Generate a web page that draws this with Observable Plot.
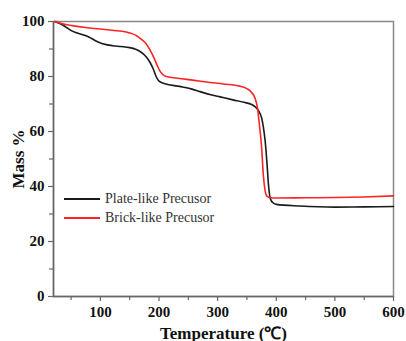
<!DOCTYPE html>
<html>
<head>
<meta charset="utf-8">
<script src="https://cdn.jsdelivr.net/npm/d3@7"></script>
<script src="https://cdn.jsdelivr.net/npm/@observablehq/plot@0.6"></script>
<style>
  html, body { margin: 0; padding: 0; background: #fff; }
  #wrap { position: relative; width: 406px; height: 341px; }
  #wrap svg text { font-family: "Liberation Serif", "Times New Roman", serif; }
  #legend { position: absolute; left: 64px; top: 189px; font-family: "Liberation Serif", "Times New Roman", serif; font-size: 14px; color: #333; line-height: 19px; }
  #legend div { display: flex; align-items: center; }
  #legend span.sw { display: inline-block; width: 36px; height: 0; border-top: 2px solid; margin-right: 5px; }
</style>
</head>
<body>
<div id="wrap"></div>
<script>
const seriesNames = ["Plate-like Precusor", "Brick-like Precusor"];
const seriesColors = ["#1a1a1a", "#ff2424"];

const plateT = [22, 35, 52, 70, 81, 90, 98, 110, 121, 135, 150, 160, 167, 178, 185, 190, 195, 200, 210, 235, 255, 270, 290, 304, 326, 345, 358, 365, 370, 375, 378, 381, 384, 387, 390, 395, 400, 440, 500, 550, 600];
const plateM = [100, 98.8, 96.5, 95.2, 94.3, 93.2, 92.4, 91.6, 91.2, 90.9, 90.5, 89.9, 89.2, 87.2, 85, 82.8, 80, 78.3, 77.4, 76.4, 75.5, 74.5, 73.3, 72.6, 71.5, 70.6, 69.8, 68.8, 67.5, 65, 61.6, 56.7, 49, 40, 35.5, 34, 33.5, 32.9, 32.5, 32.6, 32.7];

const brickT = [22, 35, 52, 75, 98, 120, 144, 155, 161, 170, 178, 185, 192, 197, 201, 206, 212, 235, 260, 281, 310, 338, 350, 358, 364, 368, 371, 375, 378, 381, 384, 390, 400, 450, 500, 550, 600];
const brickM = [100, 99.2, 98.5, 97.8, 97.3, 96.8, 96.2, 95.5, 94.9, 93.5, 91.9, 89.5, 86.5, 84, 82.2, 80.8, 80, 79.3, 78.6, 78, 77.3, 76.5, 75.6, 74.2, 72, 68.5, 63, 54.3, 44, 38.5, 36.5, 35.9, 35.8, 35.9, 36, 36.2, 36.6];

const xMajor = [100, 200, 300, 400, 500, 600];
const xMinor = [50, 150, 250, 350, 450, 550];
const yMajor = [0, 20, 40, 60, 80, 100];
const yMinor = [10, 30, 50, 70, 90];

const data = [
  ...plateT.map((t, i) => ({series: seriesNames[0], T: t, M: plateM[i]})),
  ...brickT.map((t, i) => ({series: seriesNames[1], T: t, M: brickM[i]}))
];

const font = '"Liberation Serif", "Times New Roman", serif';

const chart = Plot.plot({
  width: 406,
  height: 341,
  marginLeft: 53,
  marginRight: 13,
  marginTop: 21,
  marginBottom: 45,
  style: {fontFamily: font, background: "#fff", color: "#111"},
  x: {domain: [20, 600]},
  y: {domain: [0, 100]},
  color: {domain: seriesNames, range: seriesColors},
  marks: [
    Plot.frame({stroke: "#888", strokeWidth: 1.5}),
    Plot.axisX(xMinor, {tickSize: 4, stroke: "#666", strokeWidth: 1.2, text: null, label: null}),
    Plot.axisX(xMajor, {tickSize: 5, stroke: "#666", strokeWidth: 1.2, tickPadding: 5, fontSize: 15, fontWeight: "bold", fill: "#111",
      label: "Temperature (℃)", labelAnchor: "center", labelArrow: "none", labelOffset: 42}),
    Plot.axisY(yMinor, {tickSize: 4, stroke: "#666", strokeWidth: 1.2, text: null, label: null}),
    Plot.axisY(yMajor, {tickSize: 5, stroke: "#666", strokeWidth: 1.2, tickPadding: 4, fontSize: 15, fontWeight: "bold", fill: "#111",
      label: "Mass %", labelAnchor: "center", labelArrow: "none", labelOffset: 42}),
    Plot.ruleX([20], {stroke: "#666", strokeWidth: 1.5}),
    Plot.ruleY([0], {stroke: "#666", strokeWidth: 1.5}),
    Plot.line(data, {x: "T", y: "M", z: "series", stroke: "series", strokeWidth: 1.6, curve: "monotone-x"})
  ]
});

chart.querySelectorAll('g[aria-label="x-axis label"] text, g[aria-label="y-axis label"] text').forEach(t => {
  t.setAttribute("font-size", "17");
  t.setAttribute("font-weight", "bold");
  t.style.fontSize = "17px";
  t.style.fontWeight = "bold";
});

const wrap = document.getElementById("wrap");
wrap.appendChild(chart);

const legend = document.createElement("div");
legend.id = "legend";
seriesNames.forEach((name, i) => {
  const row = document.createElement("div");
  const sw = document.createElement("span");
  sw.className = "sw";
  sw.style.borderColor = seriesColors[i];
  row.appendChild(sw);
  row.appendChild(document.createTextNode(name));
  legend.appendChild(row);
});
wrap.appendChild(legend);
</script>
</body>
</html>
